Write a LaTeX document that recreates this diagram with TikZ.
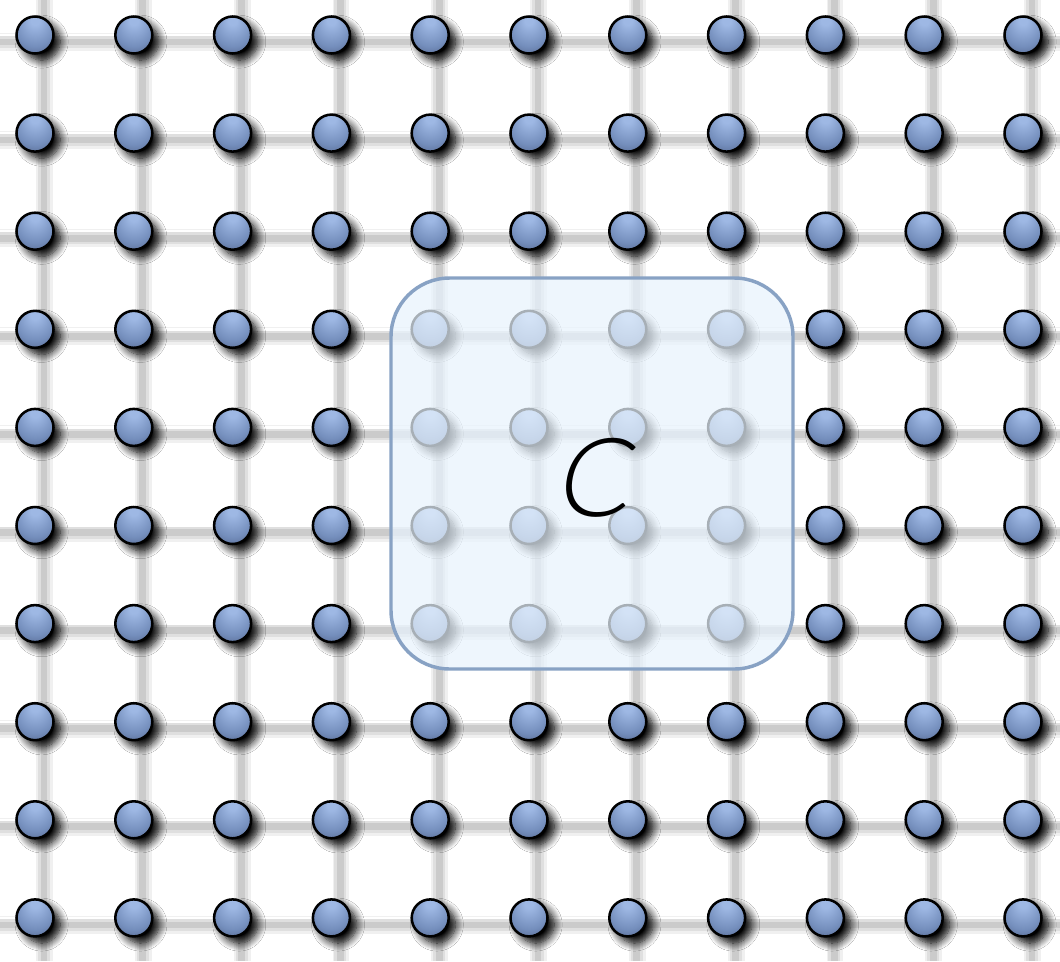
\documentclass[tikz,border=0pt]{standalone}
\usepackage{fontspec}
\usetikzlibrary{shadows.blur}
\definecolor{ballhi}{RGB}{158,184,228}
\definecolor{ballmid}{RGB}{116,142,188}
\definecolor{balllo}{RGB}{76,92,130}
\definecolor{balledge}{RGB}{52,64,94}
\definecolor{boxfill}{RGB}{232,243,253}
\definecolor{boxedge}{RGB}{136,162,196}
\pgfdeclareradialshading{siteball}{\pgfpoint{0bp}{22bp}}{%
  color(0bp)=(ballhi); color(6bp)=(ballhi); color(26bp)=(ballmid);
  color(42bp)=(balllo); color(50bp)=(balledge)}
\IfFontExistsTF{Lato Light}{%
  \newfontfamily\labelfont{Lato Light}[FakeSlant=0.2]}{%
  \IfFontExistsTF{Fira Sans Light}{%
    \newfontfamily\labelfont{Fira Sans Light}[FakeSlant=0.2]}{%
    \newcommand\labelfont{\sffamily\itshape}}}
\begin{document}
\begin{tikzpicture}[x=0.75pt,y=-0.75pt,
  site/.style={circle, draw=black, line width=1.9pt, minimum size=27.75pt, inner sep=0pt,
    shading=siteball,
    blur shadow={shadow xshift=5pt, shadow yshift=-5pt, shadow blur radius=6pt, shadow blur steps=10, shadow opacity=100}},
  bondshadow/.style={draw=black!55, line cap=butt},
  bond/.style={draw=white, line width=1.8pt},
  region/.style={draw=boxedge, line width=2.6pt, fill=boxfill, fill opacity=0.72,
    rounded corners=44pt, minimum width=301.5pt, minimum height=293.25pt, inner sep=0pt},
  lbltext/.style={font=\labelfont\fontsize{82}{82}\selectfont, text=black}]
\useasboundingbox (0,0) rectangle (1060,961);
\fill[white] (0,0) rectangle (1060,961);
% edge coordinates
\foreach \i in {0,...,10}{
  \pgfmathsetmacro\xx{35+98.8*\i}
  \coordinate (top-\i) at (\xx,0);
  \coordinate (bot-\i) at (\xx,961);
}
\foreach \j in {0,...,9}{
  \pgfmathsetmacro\yy{35+98.1*\j}
  \coordinate (lft-\j) at (0,\yy);
  \coordinate (rgt-\j) at (1060,\yy);
}
% bond shadows
\foreach \w/\o in {13.5pt/0.10, 9pt/0.13, 5pt/0.18}{
  \foreach \i in {0,...,10}{
    \draw[bondshadow, line width=\w, draw opacity=\o] ([shift={(9,0)}]top-\i) -- ([shift={(9,0)}]bot-\i);
  }
  \foreach \j in {0,...,9}{
    \draw[bondshadow, line width=\w, draw opacity=\o] ([shift={(0,7)}]lft-\j) -- ([shift={(0,7)}]rgt-\j);
  }
}
% bonds
\foreach \i in {0,...,10}{ \draw[bond] (top-\i) -- (bot-\i); }
\foreach \j in {0,...,9}{ \draw[bond] (lft-\j) -- (rgt-\j); }
% sites
\foreach \j in {0,...,9}{
  \foreach \i in {0,...,10}{
    \pgfmathsetmacro\xx{35+98.8*\i}
    \pgfmathsetmacro\yy{35+98.1*\j}
    \node[site] (n-\i-\j) at (\xx,\yy) {};
  }
}
% region
\node[region] (box) at (592,473.5) {};
\node[lbltext, inner sep=0pt] (lbl) at (590,478) {C};
\end{tikzpicture}
\end{document}
